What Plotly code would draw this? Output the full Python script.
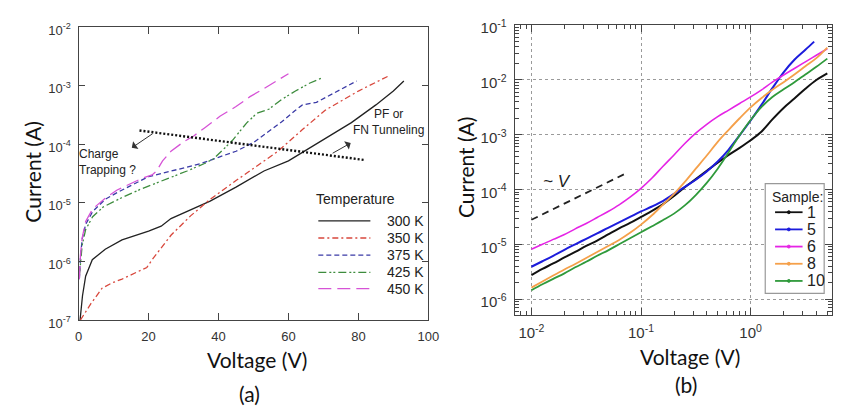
import numpy as np
import plotly.graph_objects as go

# ---------------- Panel (a): I-V at different temperatures ----------------
v300 = [0.4, 0.7, 1.1, 2.0, 3.9, 7.6, 12.4, 20, 23.6, 26.4, 32, 37.6, 45, 53, 60, 66, 72, 78, 85, 90, 93]
i300 = [1.0e-7, 1.6e-7, 2.6e-7, 5.6e-7, 1.07e-6, 1.62e-6, 2.34e-6, 3.3e-6, 4.0e-6, 5.4e-6, 7.6e-6,
        1.07e-5, 1.86e-5, 3.5e-5, 5.2e-5, 8.5e-5, 1.41e-4, 2.34e-4, 4.7e-4, 8.1e-4, 1.2e-3]

v350 = [0.5, 3.5, 6.7, 9.5, 12.4, 16, 19.5, 21, 23.5, 26.4, 32, 37.6, 45, 51, 57, 64, 70.5, 80, 89]
i350 = [1.0e-7, 1.9e-7, 3.5e-7, 4.3e-7, 5.0e-7, 6.3e-7, 7.9e-7, 1.07e-6, 1.7e-6, 2.8e-6, 6.0e-6,
        1.15e-5, 2.4e-5, 4.3e-5, 7.6e-5, 1.78e-4, 3.8e-4, 8.1e-4, 1.5e-3]

v375 = [0.2, 0.5, 1, 2, 4, 7.6, 11, 14, 17, 20, 24, 30, 35, 40, 45, 50, 55, 58, 62, 64, 68, 72, 76, 79.5]
i375 = [5.0e-7, 1.12e-6, 2.4e-6, 4.3e-6, 7.1e-6, 1.15e-5, 1.5e-5, 1.86e-5, 2.3e-5, 2.8e-5, 3.2e-5,
        4.0e-5, 4.7e-5, 6.0e-5, 7.6e-5, 1.07e-4, 1.78e-4, 2.4e-4, 3.8e-4, 4.7e-4, 5.2e-4, 6.9e-4,
        9.3e-4, 1.2e-3]

v425 = [0.2, 0.5, 1, 2, 4, 7, 12, 18, 25, 31, 36, 38.5, 42, 44, 48, 51, 54.5, 58, 62, 66, 69.5]
i425 = [5.6e-7, 1.0e-6, 1.9e-6, 3.5e-6, 5.8e-6, 8.5e-6, 1.2e-5, 1.74e-5, 2.5e-5, 3.5e-5, 4.7e-5,
        5.6e-5, 8.9e-5, 1.17e-4, 2.3e-4, 3.4e-4, 4.0e-4, 5.8e-4, 8.1e-4, 1.1e-3, 1.35e-3]

v450 = [0.2, 0.5, 1, 2, 4, 7.6, 11, 14, 18, 21, 22.3, 24, 26.4, 30, 33, 36, 40.4, 45, 49, 53, 56.4, 60]
i450 = [5.0e-7, 1.26e-6, 2.5e-6, 4.8e-6, 7.9e-6, 1.2e-5, 1.66e-5, 2.0e-5, 2.6e-5, 3.0e-5, 3.5e-5,
        5.2e-5, 7.6e-5, 1.1e-4, 1.4e-4, 1.9e-4, 3.0e-4, 4.4e-4, 6.5e-4, 8.9e-4, 1.17e-3, 1.6e-3]

temp_labels = ["300 K", "350 K", "375 K", "425 K", "450 K"]

# dotted guide line and arrows (panel a)
guide_v = [17.4, 81.7]
guide_i = [1.72e-4, 5.4e-5]
arrow_left_tail = (21.6, 1.58e-4)
arrow_left_head = (15.2, 8.7e-5)
arrow_right_tail = (72.2, 6.8e-5)
arrow_right_head = (77.8, 1.05e-4)

# ---------------- Panel (b): I-V of several samples ----------------
v_b = [0.01, 0.0126, 0.0158, 0.02, 0.0251, 0.0316, 0.0398, 0.0501, 0.0631, 0.0794,
       0.1, 0.126, 0.158, 0.2, 0.251, 0.316, 0.398, 0.501, 0.631, 0.794,
       1.0, 1.26, 1.58, 2.0, 2.51, 3.16, 3.98, 5.01]

is1 = [2.75e-6, 3.55e-6, 4.47e-6, 5.75e-6, 7.24e-6, 9.33e-6, 1.17e-5, 1.51e-5, 1.95e-5, 2.45e-5,
       3.16e-5, 4.07e-5, 5.37e-5, 7.59e-5, 1.10e-4, 1.55e-4, 2.19e-4, 3.09e-4, 4.27e-4, 5.75e-4,
       7.94e-4, 1.15e-3, 1.91e-3, 3.09e-3, 4.57e-3, 6.92e-3, 1.0e-2, 1.32e-2]

vs5 = [0.01, 0.0126, 0.0158, 0.02, 0.0251, 0.0316, 0.0398, 0.0501, 0.0631, 0.0794,
       0.1, 0.126, 0.158, 0.2, 0.251, 0.316, 0.398, 0.501, 0.631, 0.794,
       1.0, 1.26, 1.58, 2.0, 2.51, 3.16, 3.8]
is5 = [3.89e-6, 4.90e-6, 6.17e-6, 7.94e-6, 1.0e-5, 1.26e-5, 1.58e-5, 2.0e-5, 2.51e-5, 3.16e-5,
       3.98e-5, 4.90e-5, 6.17e-5, 8.32e-5, 1.12e-4, 1.51e-4, 2.14e-4, 3.24e-4, 5.37e-4, 9.77e-4,
       1.82e-3, 3.55e-3, 7.08e-3, 1.38e-2, 2.34e-2, 3.55e-2, 5.01e-2]

is6 = [8.13e-6, 1.0e-5, 1.23e-5, 1.51e-5, 1.91e-5, 2.40e-5, 3.09e-5, 3.98e-5, 5.25e-5, 7.24e-5,
       1.05e-4, 1.62e-4, 2.63e-4, 4.27e-4, 6.92e-4, 1.07e-3, 1.55e-3, 2.14e-3, 2.82e-3, 3.72e-3,
       4.90e-3, 6.61e-3, 9.12e-3, 1.23e-2, 1.62e-2, 2.14e-2, 2.82e-2, 3.72e-2]

is8 = [1.62e-6, 2.09e-6, 2.69e-6, 3.47e-6, 4.37e-6, 5.62e-6, 7.24e-6, 9.33e-6, 1.20e-5, 1.62e-5,
       2.29e-5, 3.39e-5, 5.25e-5, 8.32e-5, 1.38e-4, 2.40e-4, 4.17e-4, 7.41e-4, 1.23e-3, 2.0e-3,
       3.16e-3, 4.68e-3, 6.61e-3, 9.12e-3, 1.26e-2, 1.78e-2, 2.51e-2, 3.9e-2]

is10 = [1.45e-6, 1.86e-6, 2.34e-6, 2.95e-6, 3.80e-6, 4.79e-6, 6.17e-6, 7.76e-6, 1.0e-5, 1.29e-5,
        1.66e-5, 2.14e-5, 2.75e-5, 3.63e-5, 5.13e-5, 7.94e-5, 1.32e-4, 2.40e-4, 4.79e-4, 9.77e-4,
        1.86e-3, 3.24e-3, 4.90e-3, 6.76e-3, 9.12e-3, 1.26e-2, 1.74e-2, 2.45e-2]

sample_labels = ["1", "5", "6", "8", "10"]

slope_v = [0.01, 0.0738]
slope_i = [2.8e-5, 2.0e-4]

# ticks
a_xticks = [0, 20, 40, 60, 80, 100]
a_yticks = [1e-7, 1e-6, 1e-5, 1e-4, 1e-3, 1e-2]
a_ytext = ["10<sup>-7</sup>", "10<sup>-6</sup>", "10<sup>-5</sup>", "10<sup>-4</sup>", "10<sup>-3</sup>", "10<sup>-2</sup>"]
b_xticks = [0.01, 0.1, 1]
b_xtext = ["10<sup>-2</sup>", "10<sup>-1</sup>", "10<sup>0</sup>"]
b_yticks = [1e-6, 1e-5, 1e-4, 1e-3, 1e-2, 1e-1]
b_ytext = ["10<sup>-6</sup>", "10<sup>-5</sup>", "10<sup>-4</sup>", "10<sup>-3</sup>", "10<sup>-2</sup>", "10<sup>-1</sup>"]

# ---------------- styles ----------------
a_colors = ["#222222", "#d8473c", "#3a3aa6", "#3d8c3d", "#d653d6"]
a_dash = ["solid", "6px,3px,2px,3px", "5px,3px", "8px,3px,2px,2px,2px,3px", "13px,6px"]
b_colors = ["#111111", "#1c1cdc", "#e524e5", "#f5a04a", "#2f9a3b"]
b_width = [2.0, 2.0, 1.6, 1.8, 1.8]

TICKFONT = "Liberation Sans, Arial, sans-serif"
TITLEFONT = "Lato, Open Sans, sans-serif"

fig = go.Figure()

a_series = [(v300, i300), (v350, i350), (v375, i375), (v425, i425), (v450, i450)]
for (vx, iy), c, d in zip(a_series, a_colors, a_dash):
    fig.add_trace(go.Scatter(x=vx, y=iy, mode="lines", xaxis="x", yaxis="y",
                             line=dict(color=c, width=1.3, dash=d)))

fig.add_trace(go.Scatter(x=guide_v, y=guide_i, mode="lines", xaxis="x", yaxis="y",
                         line=dict(color="#111", width=2.4, dash="2px,2px")))

b_series = [(v_b, is1), (vs5, is5), (v_b, is6), (v_b, is8), (v_b, is10)]
for (vx, iy), c, w in zip(b_series, b_colors, b_width):
    fig.add_trace(go.Scatter(x=vx, y=iy, mode="lines", xaxis="x2", yaxis="y2",
                             line=dict(color=c, width=w, shape="spline", smoothing=1.0)))

fig.add_trace(go.Scatter(x=slope_v, y=slope_i, mode="lines", xaxis="x2", yaxis="y2",
                         line=dict(color="#222", width=1.8, dash="7px,5px")))

axcommon = dict(showline=True, linecolor="#444", linewidth=1.3, mirror="ticks",
                ticks="inside", tickcolor="#444", tickwidth=1.2, zeroline=False)

b_minor_x = [m * 10.0 ** k for k in (-3, -2, -1, 0) for m in range(2, 10)]
b_minor_y = [m * 10.0 ** k for k in (-7, -6, -5, -4, -3, -2) for m in range(2, 10)]

fig.update_layout(
    width=845, height=416, margin=dict(l=0, r=0, t=0, b=0),
    paper_bgcolor="white", plot_bgcolor="white", showlegend=False,
    xaxis=dict(domain=[76 / 845, 432 / 845], anchor="y", range=[0, 100],
               tickmode="array", tickvals=a_xticks, ticklen=7, showgrid=False,
               ticklabelstandoff=4, tickfont=dict(family=TICKFONT, color="#333", size=13), **axcommon),
    yaxis=dict(domain=[1 - 327 / 416, 1 - 20 / 416], anchor="x", type="log", range=[-7, -2],
               tickmode="array", tickvals=a_yticks, ticktext=a_ytext, ticklen=6, showgrid=False,
               ticklabelstandoff=4, ticklabelshift=3,
               tickfont=dict(family=TICKFONT, color="#333", size=13), **axcommon),
    xaxis2=dict(domain=[520 / 845, 843 / 845], anchor="y2", type="log", range=[-2.152, 0.743],
                tickmode="array", tickvals=b_xticks, ticktext=b_xtext, ticklen=7,
                showgrid=True, gridcolor="#9a9a9a", griddash="dot", gridwidth=1,
                minor=dict(tickmode="array", tickvals=b_minor_x, ticks="inside", ticklen=4,
                           tickcolor="#444", showgrid=False),
                ticklabelstandoff=4, tickfont=dict(family=TICKFONT, color="#333", size=15), **axcommon),
    yaxis2=dict(domain=[1 - 322 / 416, 1 - 18 / 416], anchor="x2", type="log", range=[-6.296, -1],
                tickmode="array", tickvals=b_yticks, ticktext=b_ytext, ticklen=7,
                showgrid=True, gridcolor="#9a9a9a", griddash="dot", gridwidth=1,
                minor=dict(tickmode="array", tickvals=b_minor_y, ticks="inside", ticklen=4,
                           tickcolor="#444", showgrid=False),
                ticklabelstandoff=4, ticklabelshift=3,
                tickfont=dict(family=TICKFONT, color="#333", size=15), **axcommon),
)

ann = []
shapes = []

def ptext(x, y, t, size, angle=0, family=TITLEFONT, color="#111"):
    ann.append(dict(text=t, x=x / 845, y=1 - y / 416, xref="paper", yref="paper", showarrow=False,
                    xanchor="center", yanchor="middle", textangle=angle,
                    font=dict(family=family, size=size, color=color)))

ptext(258, 368, "Voltage (V)", 21)
ptext(250, 404, "(a)", 21)
ptext(29, 172, "Current (A)", 21, angle=-90)
ptext(698, 365, "Voltage (V)", 21)
ptext(694, 394, "(b)", 21)
ptext(470, 167, "Current (A)", 21, angle=-90)

# panel a legend / annotation helpers (pixel -> domain fraction)
def ax_dom(px):
    return (px - 76) / 356

def ay_dom(py):
    return (327 - py) / 307

ann.append(dict(text="Charge<br>Trapping ?", x=ax_dom(74), y=ay_dom(161), xref="x domain", yref="y domain",
                showarrow=False, xanchor="left", yanchor="middle", align="left",
                font=dict(family=TICKFONT, size=12, color="#222")))
ann.append(dict(text="PF or<br>FN Tunneling", x=88.5, y=np.log10(2.41e-4), xref="x", yref="y",
                showarrow=False, xanchor="center", yanchor="middle", align="center",
                font=dict(family=TICKFONT, size=12, color="#222")))
for tail, head in [(arrow_left_tail, arrow_left_head), (arrow_right_tail, arrow_right_head)]:
    ann.append(dict(text="", x=head[0], y=np.log10(head[1]), ax=tail[0], ay=np.log10(tail[1]),
                    xref="x", yref="y", axref="x", ayref="y", showarrow=True,
                    arrowhead=1, arrowsize=1.6, arrowwidth=1, arrowcolor="#333"))

ann.append(dict(text="Temperature", x=ax_dom(358), y=ay_dom(200), xref="x domain", yref="y domain",
                showarrow=False, xanchor="center", yanchor="middle",
                font=dict(family=TICKFONT, size=14, color="#222")))
rows_a = [223, 241, 259, 277, 294]
for lab, c, d, ry in zip(temp_labels, a_colors, a_dash, rows_a):
    shapes.append(dict(type="line", xref="x domain", yref="y domain", x0=ax_dom(320), x1=ax_dom(373),
                       y0=ay_dom(ry), y1=ay_dom(ry), line=dict(color=c, width=1.3, dash=d)))
    ann.append(dict(text=lab, x=ax_dom(388), y=ay_dom(ry), xref="x domain", yref="y domain",
                    showarrow=False, xanchor="left", yanchor="middle",
                    font=dict(family=TICKFONT, size=14, color="#222")))

# panel b annotations
ann.append(dict(text="<i>~ V</i>", x=np.log10(0.0171), y=np.log10(1.39e-4), xref="x2", yref="y2",
                showarrow=False, xanchor="center", yanchor="middle",
                font=dict(family=TICKFONT, size=17, color="#222")))

def bx_dom(px):
    return (px - 520) / 323

def by_dom(py):
    return (322 - py) / 304

shapes.append(dict(type="rect", xref="x2 domain", yref="y2 domain", x0=bx_dom(775), x1=bx_dom(835),
                   y0=by_dom(299), y1=by_dom(184), line=dict(color="#999", width=1.2), fillcolor="white"))
ann.append(dict(text="Sample:", x=bx_dom(808), y=by_dom(198), xref="x2 domain", yref="y2 domain",
                showarrow=False, xanchor="center", yanchor="middle",
                font=dict(family=TICKFONT, size=14, color="#222")))
rows_b = [214, 232, 250, 268, 286]
for lab, c, ry in zip(sample_labels, b_colors, rows_b):
    shapes.append(dict(type="line", xref="x2 domain", yref="y2 domain", x0=bx_dom(785), x1=bx_dom(813),
                       y0=by_dom(ry), y1=by_dom(ry), line=dict(color=c, width=1.8)))
    shapes.append(dict(type="circle", xref="x2 domain", yref="y2 domain",
                       x0=bx_dom(797.5), x1=bx_dom(800.5), y0=by_dom(ry + 1.5), y1=by_dom(ry - 1.5),
                       line=dict(color=c, width=1), fillcolor=c))
    ann.append(dict(text=lab, x=bx_dom(815), y=by_dom(ry), xref="x2 domain", yref="y2 domain",
                    showarrow=False, xanchor="left", yanchor="middle",
                    font=dict(family=TICKFONT, size=16, color="#222")))

fig.update_layout(annotations=ann, shapes=shapes)
fig.write_html("out.html")
